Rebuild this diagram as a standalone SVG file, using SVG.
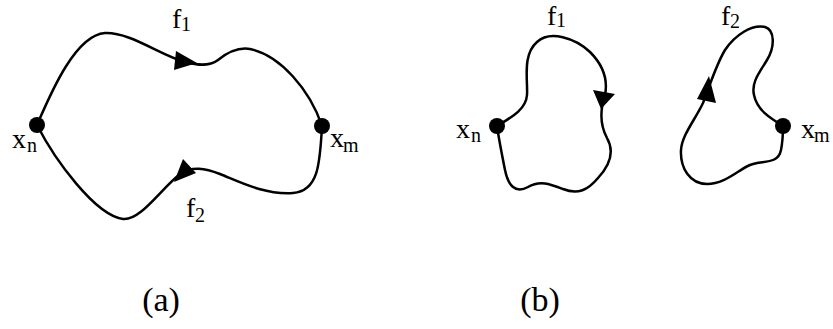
<svg xmlns="http://www.w3.org/2000/svg" width="833" height="329" viewBox="0 0 833 329">
<style>
.c{fill:none;stroke:#000;stroke-width:2.5;stroke-linejoin:round}
.a{fill:#000}
.n{fill:#000}
text{fill:#000}
.m{font-size:28px}
.s{font-size:20px}
.cap{font-size:34px;text-anchor:middle}
</style>
<rect width="833" height="329" fill="#fff"/>
<g id="connectors">
<path class="c" d="M37,125 C50,95 75,35 105,33 C130,32 160,55 185,62 C200,66 210,66 218,60 C228,52 238,47 250,49 C280,55 310,90 322,126"/>
<path class="c" d="M37,125 C55,160 95,215 123,219 C140,221 160,190 180,174 C192,166 205,168 220,174 C240,182 265,195 293,193 C318,191 320,165 322,126"/>
<polygon class="a" points="176,51 174,70 197,63"/>
<polygon class="a" points="183,159 174,182 196,173"/>
<path class="c" d="M497,126 C510,118 526,110 527,95 C528,80 522,55 537,42 C550,30 575,38 590,52 C603,65 608,80 605,95 C600,110 600,125 607,138 C615,152 610,165 598,178 C588,190 578,195 563,189 C550,184 540,180 528,187 C515,194 508,185 505,170 C502,155 499,140 497,126 Z"/>
<path class="c" d="M783,126 C770,118 757,110 754,95 C751,82 760,72 767,60 C775,47 775,30 765,27 C752,24 735,35 725,50 C716,65 710,85 703,103 C695,120 682,135 681,150 C680,168 690,184 707,184 C725,184 738,170 750,165 C762,160 778,165 781,150 C783,140 783,132 783,126 Z"/>
<polygon class="a" points="593,90 615,94 601,109"/>
<polygon class="a" points="709,76 697,99 716,103"/>
</g>
<g font-family="'Liberation Serif','DejaVu Serif',serif">
<g id="a-xn"><circle class="n" cx="37" cy="125" r="8"/><text class="m" x="12" y="148">x</text><text class="s" x="27" y="152">n</text></g>
<g id="a-xm"><circle class="n" cx="322" cy="126" r="8"/><text class="m" x="330" y="147">x</text><text class="s" x="343" y="152">m</text></g>
<g id="a-f1"><text class="m" x="172" y="28">f</text><text class="s" x="181" y="31">1</text></g>
<g id="a-f2"><text class="m" x="186" y="217">f</text><text class="s" x="195" y="222">2</text></g>
<g id="b-xn"><circle class="n" cx="497" cy="126" r="8"/><text class="m" x="456" y="138">x</text><text class="s" x="471" y="142">n</text></g>
<g id="b-xm"><circle class="n" cx="783" cy="126" r="8"/><text class="m" x="801" y="138">x</text><text class="s" x="814" y="142">m</text></g>
<g id="b-f1"><text class="m" x="547" y="25">f</text><text class="s" x="556" y="27">1</text></g>
<g id="b-f2"><text class="m" x="721" y="25">f</text><text class="s" x="730" y="28">2</text></g>
<text class="cap" x="161" y="311">(a)</text>
<text class="cap" x="540" y="311">(b)</text>
</g>
</svg>
